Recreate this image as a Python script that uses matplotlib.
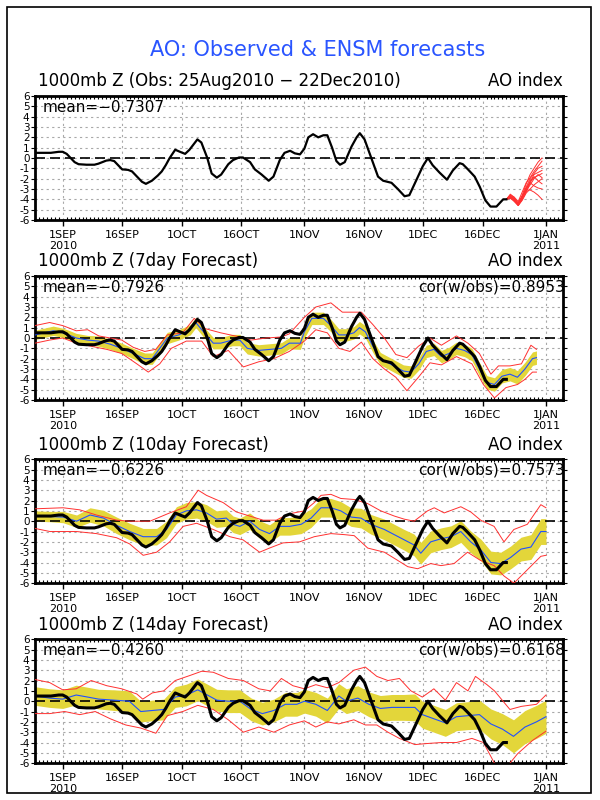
import numpy as np
import matplotlib
matplotlib.use("Agg")
import matplotlib.pyplot as plt
from matplotlib.patches import Rectangle
from matplotlib.ticker import MultipleLocator

plt.rcParams['font.family'] = ['DejaVu Sans']

# x axis: day 0 = 25 Aug 2010
tick_days = [7, 22, 37, 52, 68, 83, 98, 113, 129]
tick_labels = ['1SEP\n2010', '16SEP', '1OCT', '16OCT', '1NOV', '16NOV',
               '1DEC', '16DEC', '1JAN\n2011']

# observed AO index (25Aug - 22Dec)
obs_days = [0, 2, 4, 6, 7, 8, 9, 10, 11, 13, 15, 16, 17, 18, 19, 20, 21, 22, 23.5,
            24.5, 25.5, 27, 28, 29.5, 31, 32, 33, 34, 35.4, 36.6, 37.9, 39, 40, 41,
            42, 43, 43.5, 44.6, 45.9, 47, 48.8, 50, 51.5, 52.5, 54.3, 55.5, 57.2, 59,
            60.2, 61, 61.8, 63, 64.4, 65.6, 66.9, 68, 69, 70.2, 71.5, 72.8, 73.8, 75,
            76.1, 77, 78.2, 79.9, 81.2, 82, 83.2, 84.9, 86.6, 87.9, 90, 91.6, 93.3,
            94.5, 96.2, 97.9, 99.2, 100.4, 102.1, 104, 105.5, 107.2, 108, 109.3, 111,
            112.3, 113.7, 115, 116.5, 118.2, 119]
obs_vals = [0.5, 0.5, 0.5, 0.6, 0.6, 0.4, 0.0, -0.4, -0.6, -0.65, -0.65, -0.55, -0.4,
            -0.25, -0.2, -0.3, -0.7, -1.1, -1.15, -1.3, -1.7, -2.3, -2.5, -2.2, -1.7,
            -1.3, -0.7, 0.0, 0.8, 0.6, 0.4, 0.8, 1.3, 1.8, 1.5, 0.5, 0.0, -1.5, -1.9,
            -1.6, -0.6, -0.2, 0.05, 0.05, -0.4, -1.1, -1.6, -2.2, -1.8, -1.0, -0.2, 0.5,
            0.7, 0.45, 0.35, 0.9, 2.0, 2.3, 2.0, 2.2, 2.2, 1.0, -0.3, -0.65, -0.4, 1.1,
            2.0, 2.4, 1.8, 0.0, -1.8, -2.2, -2.4, -3.0, -3.7, -3.6, -2.2, -0.8, 0.0,
            -0.7, -1.4, -2.1, -1.2, -0.5, -0.6, -1.1, -1.8, -2.8, -4.1, -4.7, -4.7,
            -4.0, -4.0]

# ENSM member forecasts from 22Dec (top panel)
member_days = [119, 120, 121, 122, 123, 124, 125, 126, 127, 128]
member_01 = [-4.0, -3.6, -3.9, -4.4, -3.6, -2.5, -1.6, -1.0, -0.4, 0.0]
member_02 = [-4.0, -3.7, -4.0, -4.5, -3.8, -2.8, -2.0, -1.5, -1.0, -0.8]
member_03 = [-4.0, -3.8, -4.1, -4.6, -3.9, -3.0, -2.3, -1.6, -1.4, -1.2]
member_04 = [-4.0, -3.9, -4.1, -4.3, -3.7, -3.2, -2.6, -2.0, -1.6, -1.9]
member_05 = [-4.0, -3.6, -3.8, -4.5, -4.0, -3.3, -2.4, -1.8, -2.2, -2.5]
member_06 = [-4.0, -3.7, -4.2, -4.6, -4.1, -3.4, -3.0, -2.6, -2.3, -2.0]
member_07 = [-4.0, -3.8, -3.9, -4.4, -3.8, -3.1, -3.1, -3.3, -3.6, -4.0]
member_08 = [-4.0, -3.5, -3.8, -4.2, -3.3, -2.4, -1.9, -1.3, -0.8, -0.3]
member_09 = [-4.0, -3.9, -4.2, -4.6, -4.0, -3.1, -2.2, -1.9, -1.7, -1.5]
member_10 = [-4.0, -3.7, -4.0, -4.4, -3.7, -2.9, -2.4, -2.7, -2.9, -3.0]
members = [member_01, member_02, member_03, member_04, member_05,
           member_06, member_07, member_08, member_09, member_10]

# 7-day forecast: ensemble mean, spread, max, min
f7_days = [0, 4.6, 7, 8.5, 10.4, 13.3, 16.1, 19, 21.9, 24.8, 27.7, 29.6, 31.5, 33.4,
           36.3, 39.2, 40.6, 42.1, 45, 46.9, 49.8, 51.7, 53.6, 56.5, 59.4, 62.2, 64.2,
           67, 68, 69.9, 72.8, 74.7, 76.7, 78.6, 80.5, 81.9, 83.4, 85.3, 87.2, 90.1, 93,
           94.9, 96.9, 98.8, 100.7, 102.6, 104.5, 106.4, 108.4, 110.3, 112.2, 114.1,
           116, 117.9, 119.9, 121.8, 123.7, 125.6, 126.6]
f7_mean = [0.3, 0.7, 0.5, 0.3, 0.0, -0.2, -0.3, -0.6, -1.0, -1.5, -2.0, -2.0, -1.0, 0.0,
           0.3, 0.8, 1.5, 0.8, -0.5, -0.5, -0.2, -0.2, -1.0, -1.2, -1.1, -1.0, -0.5,
           -0.5, 0.6, 1.9, 1.9, 1.2, 0.3, 0.3, 0.5, 1.0, 0.6, -0.8, -2.0, -2.6, -3.2,
           -3.3, -2.5, -1.3, -1.1, -1.8, -1.5, -1.0, -1.2, -1.6, -3.0, -4.3, -4.5, -3.7,
           -3.5, -3.8, -3.0, -2.0, -1.9]
f7_sd = [0.45, 0.45, 0.45, 0.45, 0.45, 0.45, 0.5, 0.5, 0.5, 0.5, 0.55, 0.55, 0.55, 0.55,
         0.5, 0.5, 0.5, 0.5, 0.55, 0.55, 0.55, 0.55, 0.55, 0.55, 0.55, 0.55, 0.55,
         0.6, 0.6, 0.6, 0.6, 0.6, 0.6, 0.6, 0.6, 0.6, 0.6, 0.6, 0.6, 0.6, 0.6, 0.6,
         0.6, 0.6, 0.6, 0.6, 0.6, 0.6, 0.6, 0.6, 0.65, 0.65, 0.65, 0.65, 0.65, 0.65,
         0.65, 0.65, 0.65]
f7_hi_days = [0, 3.7, 7, 10.4, 13.3, 16.1, 19, 21.9, 24.8, 27.7, 30.5, 33.4, 37.3, 40.2,
              43, 46.9, 51.7, 54.6, 58.4, 62.2, 64.2, 68, 70.9, 74.7, 77.6, 82.4, 85.3,
              88.2, 91.1, 93.9, 96.8, 99.7, 102.6, 106.4, 109.3, 112.2, 115.1, 117,
              119.9, 122.8, 125.2, 126.6]
f7_hi = [1.2, 1.5, 1.2, 0.7, 0.8, 0.2, 0.0, -0.2, -0.9, -1.3, -1.1, 0.3, 0.5, 1.9, 0.9,
         0.5, 0.1, -0.2, 0.0, 0.1, 0.4, 2.0, 3.0, 3.4, 2.5, 2.5, 1.3, 0.0, -1.6, -1.9,
         -0.8, 0.0, -0.7, 0.2, -0.5, -1.5, -3.5, -2.7, -2.7, -2.5, -0.7, -1.1]
f7_lo_days = [0, 3.7, 7, 10.4, 14.2, 18.1, 21.9, 25.7, 28.6, 31.5, 34.4, 38.2, 42.1, 45,
              48.8, 52.6, 56.5, 60.3, 64.2, 68, 70.9, 73.8, 76.7, 79.5, 82.4, 85.3, 88.2,
              91.1, 93.9, 96.8, 99.7, 102.6, 106.4, 110.3, 113.2, 116, 118.9, 121.8,
              123.7, 125.6, 126.6]
f7_lo = [-0.5, -0.2, 0.0, -0.5, -0.8, -1.1, -1.5, -2.5, -3.3, -2.5, -1.0, -0.3, -0.3,
         -1.8, -1.2, -2.8, -2.3, -2.0, -1.3, -0.3, 0.8, 0.5, -1.0, -1.3, -0.4, -2.0,
         -3.0, -3.8, -5.1, -3.8, -2.4, -2.6, -1.8, -2.5, -4.5, -5.8, -4.8, -4.5, -4.0,
         -3.3, -3.3]

# 10-day forecast
f10_days = [0, 3.8, 7.1, 10.5, 13.9, 17.3, 20.6, 23.9, 27.3, 30.7, 33.2, 35.7, 38.2,
            40.8, 43.3, 45.8, 48.3, 50, 51.7, 54.2, 56.7, 59.2, 61.8, 64.3, 67.2, 69.7,
            72.2, 74.7, 77.2, 79.8, 82.3, 84.8, 88.2, 90.7, 93.2, 95.7, 97.4, 99.9,
            102.5, 105, 107.5, 110, 112.6, 115.1, 117.6, 120.1, 122.7, 125.2, 127.7, 129]
f10_mean = [0.5, 0.45, 0.4, 0.0, 0.6, 0.3, -0.4, -1.0, -1.5, -1.5, -0.8, 0.6, 1.0, 1.1,
            0.8, 0.2, 0.3, -0.3, -0.5, 0.0, -0.8, -1.2, -0.5, -0.5, -0.3, 0.3, 1.3, 1.3,
            1.0, 0.4, 0.3, -0.3, -0.8, -1.3, -1.8, -2.3, -3.1, -2.0, -1.7, -1.5, -1.0,
            -2.0, -2.8, -4.0, -4.1, -3.5, -2.7, -2.5, -1.0, -1.0]
f10_sd = [0.5, 0.5, 0.55, 0.6, 0.7, 0.75, 0.8, 0.8, 0.8, 0.8, 0.8, 0.8, 0.8, 0.8, 0.8,
          0.8, 0.8, 0.8, 0.8, 0.8, 0.85, 0.85, 0.85, 0.85, 0.9, 0.9, 0.9, 0.9, 0.9, 0.9,
          0.95, 0.95, 1.0, 1.0, 1.0, 1.05, 1.05, 1.05, 1.05, 1.05, 1.05, 1.05, 1.05,
          1.1, 1.1, 1.1, 1.15, 1.2, 1.25, 1.25]
f10_hi_days = [0, 7.1, 11.3, 15.5, 20.6, 23.9, 29, 34, 38.2, 41.2, 43.3, 47.5, 50.8,
               54.2, 57.6, 60.9, 64, 68, 70.5, 72.2, 74.7, 77.2, 80.6, 84, 87.3, 90.7,
               93.2, 95.7, 99.1, 100.8, 103.3, 107.5, 110, 112.5, 115.9, 118.4, 120.9,
               124.3, 127.7, 129]
f10_hi = [1.2, 1.3, 1.1, 0.6, 0.1, 0.0, 0.0, 0.8, 1.4, 3.0, 2.5, 1.8, 0.9, 0.5, 0.1,
          0.1, 0.7, 1.0, 1.8, 2.5, 2.6, 2.2, 2.1, 1.7, 1.0, 0.5, 0.2, 0.0, 1.0, 1.3,
          0.8, 1.4, 0.9, 0.1, -0.5, -2.0, -0.8, -0.3, 1.6, 1.3]
f10_lo_days = [0, 3.8, 7.1, 10.5, 15.5, 20.6, 23.9, 27.3, 30.7, 34, 37.4, 40.8, 45,
               49.2, 52.5, 56.7, 59.2, 62.6, 66.8, 70.5, 74.7, 78.1, 80.6, 84, 88.2,
               91.6, 94.1, 96.6, 99.9, 102.5, 105.8, 109.2, 112.5, 115.9, 118.4, 120.9,
               124.3, 127.7, 129]
f10_lo = [-0.7, -1.0, -1.0, -1.0, -1.2, -1.6, -2.2, -3.3, -3.0, -2.0, -0.5, -0.2, -0.8,
          -1.5, -1.8, -3.0, -2.6, -2.1, -2.0, -1.5, -1.2, -1.3, -1.4, -2.6, -3.0, -3.8,
          -4.4, -4.6, -4.1, -4.3, -4.1, -3.0, -3.8, -4.3, -5.3, -6.0, -4.7, -3.4, -3.3]

# 14-day forecast
f14_days = [0, 3.7, 7, 10.4, 13.3, 16.1, 20, 23.8, 26.7, 29.6, 32.5, 35.4, 38.2, 41.1,
            43.5, 45.9, 48.8, 51.7, 54.6, 57.4, 60.3, 63.2, 66.1, 68, 70.9, 73.8, 76.7,
            78.6, 81.5, 84.3, 87.2, 90.1, 93, 95.9, 97.8, 100.7, 103.6, 106.4, 109.3,
            112.2, 115.1, 118, 120.8, 123.7, 126.6, 129]
f14_mean = [0.5, 0.3, 0.2, 0.6, 0.4, 0.2, 0.1, 0.0, -1.0, -0.9, -0.8, 0.4, 0.6, 1.1, 0.6,
            0.1, 0.0, 0.0, -0.8, -1.2, -0.9, -0.3, -0.3, 0.0, -0.3, -0.9, 0.5, 0.0, 0.3,
            -0.3, -0.7, -0.6, -0.6, -0.6, -1.3, -1.7, -2.1, -1.5, -1.4, -1.3, -2.2, -2.7,
            -3.4, -2.5, -2.0, -1.5]
f14_sd = [0.9, 0.9, 0.9, 0.95, 0.95, 0.95, 1.0, 1.0, 1.0, 1.0, 1.0, 1.0, 1.05, 1.05,
          1.05, 1.05, 1.1, 1.1, 1.1, 1.1, 1.1, 1.15, 1.15, 1.15, 1.15, 1.2, 1.2, 1.2,
          1.2, 1.2, 1.25, 1.25, 1.25, 1.3, 1.3, 1.3, 1.3, 1.35, 1.35, 1.4, 1.45, 1.5,
          1.6, 1.6, 1.6, 1.6]
f14_hi_days = [0, 3.7, 7, 10.4, 14.2, 18.1, 21.9, 25.7, 27.2, 29.6, 32.5, 35.4, 39.2,
               42.1, 45, 48.8, 52.6, 56.5, 59.4, 62.2, 65.1, 68, 70.9, 73.8, 76.7, 80.5,
               83.4, 86.3, 89.1, 92, 94.9, 97.8, 100.7, 103.6, 106.4, 109.3, 111.2,
               114.1, 116, 119.9, 122.8, 126.6, 129]
f14_hi = [2.1, 1.8, 1.1, 1.2, 2.0, 1.5, 1.2, 0.7, 0.2, 0.8, 1.0, 2.0, 2.5, 2.9, 2.8, 2.2,
          2.0, 1.2, 1.0, 2.2, 1.5, 1.2, 1.6, 1.3, 1.8, 3.0, 3.3, 2.4, 2.0, 2.2, 1.0, 0.4,
          1.2, 0.1, 1.8, 1.0, 2.4, 1.6, 1.0, -0.8, -0.5, -0.3, 0.6]
f14_lo_days = [0, 3.7, 7.5, 11.3, 15.2, 19, 22.9, 26.7, 30.5, 33.4, 37.3, 41.1, 45,
               48.8, 52.6, 56.5, 60.3, 64.2, 68, 70.9, 73.8, 76.7, 80.5, 83.4, 86.3,
               89.1, 92, 95.9, 98.8, 102.6, 106.4, 110.3, 113.2, 116, 118, 119.9, 121.8,
               125.6, 129]
f14_lo = [-1.2, -1.2, -1.0, -1.3, -1.0, -1.7, -2.3, -2.6, -3.1, -1.4, -1.0, -0.4, -0.8,
          -1.8, -3.0, -2.5, -3.0, -2.3, -1.9, -2.5, -2.0, -2.2, -1.8, -2.3, -2.3, -3.0,
          -3.6, -4.2, -4.1, -4.0, -4.0, -3.6, -4.0, -6.0, -6.5, -6.0, -5.1, -3.8, -2.9]

panel_titles = ['1000mb Z (Obs: 25Aug2010 \u2212 22Dec2010)', '1000mb Z (7day Forecast)',
                '1000mb Z (10day Forecast)', '1000mb Z (14day Forecast)']
mean_texts = ['mean=\u22120.7307', 'mean=\u22120.7926', 'mean=\u22120.6226', 'mean=\u22120.4260']
cor_texts = [None, 'cor(w/obs)=0.8953', 'cor(w/obs)=0.7573', 'cor(w/obs)=0.6168']

yellow = '#e3d63a'
red = '#ff3030'
blue = '#2050ff'

fig = plt.figure(figsize=(6, 8), dpi=100)
fig.patch.set_facecolor('white')
fig.add_artist(Rectangle((7 / 600, 7 / 800), 584 / 600, 786 / 800, transform=fig.transFigure,
                         fill=False, lw=1.2, color='black'))
fig.text(0.53, 0.937, 'AO: Observed & ENSM forecasts', ha='center', va='center',
         fontsize=15, color='#2a55ff')

bottoms = [0.725, 0.5, 0.271, 0.046]
axes = [fig.add_axes([35 / 600, b, 528 / 600, 0.155]) for b in bottoms]


def style_axis(ax, i):
    ax.set_xlim(0, 133.3)
    ax.set_ylim(-6, 6)
    ax.set_xticks(tick_days)
    ax.set_xticklabels(tick_labels, fontsize=8, linespacing=1.1)
    ax.xaxis.set_minor_locator(MultipleLocator(1))
    ax.set_yticks(range(-6, 7))
    ax.set_yticklabels([str(v) for v in range(-6, 7)], fontsize=7.5)
    ax.tick_params(axis='x', which='major', direction='out', length=4, width=1, pad=3)
    ax.tick_params(axis='x', which='minor', direction='in', length=2.5, width=0.8,
                   top=True, bottom=True)
    ax.tick_params(axis='y', which='major', direction='out', length=3, width=0.8, pad=1,
                   right=True)
    for s in ax.spines.values():
        s.set_linewidth(2)
    ax.grid(True, which='major', color='#a8a8a8', lw=0.8, ls=(0, (2, 3)), zorder=0)
    ax.set_axisbelow(True)
    ax.axhline(0, color='black', lw=1.2, ls=(0, (6, 3)), zorder=3)
    ax.annotate(panel_titles[i], xy=(0, 1), xycoords='axes fraction', xytext=(2, 4),
                textcoords='offset points', ha='left', va='bottom', fontsize=12)
    ax.annotate('AO index', xy=(1, 1), xycoords='axes fraction', xytext=(0, 4),
                textcoords='offset points', ha='right', va='bottom', fontsize=12)
    ax.text(0.015, 0.97, mean_texts[i], transform=ax.transAxes, ha='left', va='top',
            fontsize=11)
    if cor_texts[i]:
        ax.text(1.003, 0.97, cor_texts[i], transform=ax.transAxes, ha='right', va='top',
                fontsize=11)


# top panel: observations + member forecasts
ax = axes[0]
style_axis(ax, 0)
for m in members:
    ax.plot(member_days, m, color=red, lw=0.7, zorder=4)
ax.plot(obs_days, obs_vals, color='black', lw=1.6, zorder=5)

forecasts = [
    (f7_days, f7_mean, f7_sd, f7_hi_days, f7_hi, f7_lo_days, f7_lo),
    (f10_days, f10_mean, f10_sd, f10_hi_days, f10_hi, f10_lo_days, f10_lo),
    (f14_days, f14_mean, f14_sd, f14_hi_days, f14_hi, f14_lo_days, f14_lo),
]
for i, (d, mu, sd, hd, hv, ld, lv) in enumerate(forecasts, start=1):
    ax = axes[i]
    style_axis(ax, i)
    mu = np.array(mu)
    sd = np.array(sd)
    ax.fill_between(d, mu - sd, mu + sd, color=yellow, lw=0, zorder=2)
    ax.plot(hd, hv, color=red, lw=0.7, zorder=4)
    ax.plot(ld, lv, color=red, lw=0.7, zorder=4)
    ax.plot(d, mu, color=blue, lw=0.8, zorder=4)
    ax.plot(obs_days, obs_vals, color='black', lw=2.2, zorder=5)

fig.savefig('out.png', dpi=100)
